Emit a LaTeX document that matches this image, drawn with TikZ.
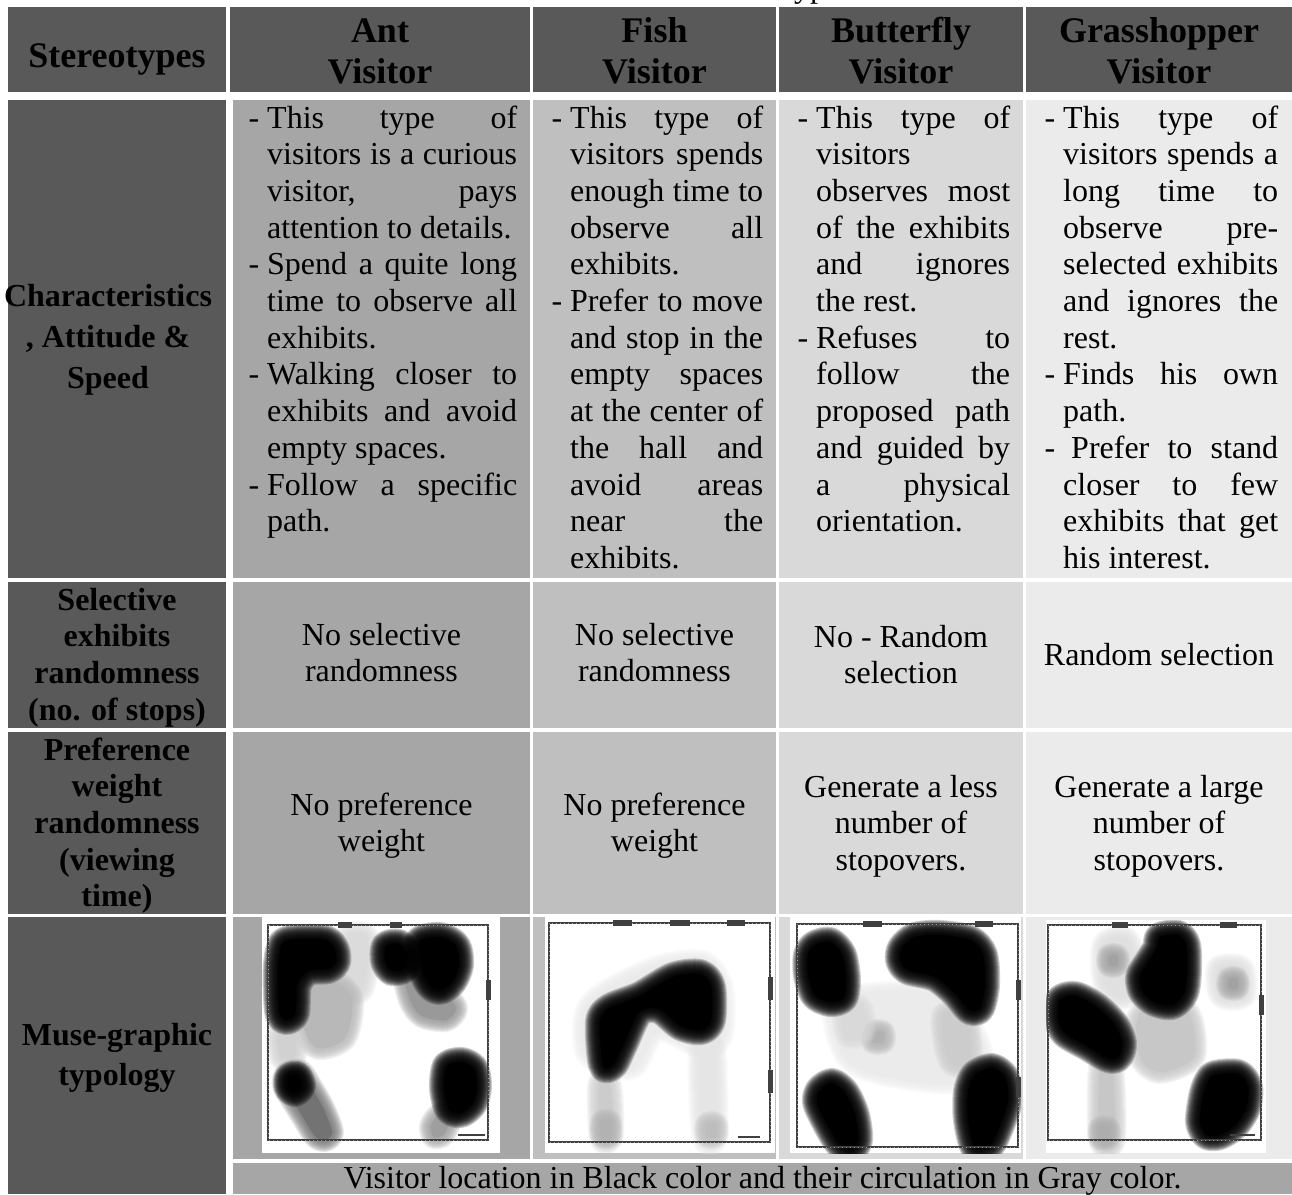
\documentclass[tikz,border=0pt]{standalone}
\usepackage{fontspec}
\setmainfont{Liberation Serif}

\definecolor{hdgray}{HTML}{595959}
\definecolor{antgray}{HTML}{A6A6A6}
\definecolor{fishgray}{HTML}{BFBFBF}
\definecolor{flygray}{HTML}{D9D9D9}
\definecolor{hopgray}{HTML}{EBEBEB}
\definecolor{mapline}{HTML}{404040}

\newcommand\bodyfont{\fontsize{32}{36.7}\selectfont}
\newcommand\headfont{\fontsize{36}{41.2}\selectfont\bfseries}
% one justified / left-aligned line of a bulleted cell
\newcommand\lnj[1]{\noindent\makebox[\linewidth][s]{#1}\par}
\newcommand\lnl[1]{\noindent\makebox[\linewidth][l]{#1}\par}
\newcommand\lndj[1]{\noindent\llap{-\ }\makebox[\linewidth][s]{#1}\par}
\newcommand\lndl[1]{\noindent\llap{-\ }\makebox[\linewidth][l]{#1}\par}
\newcommand\ctr[2]{\parbox[t]{#1}{\centering #2}}

% dense ink blob with a blurred rim
\newcommand\inkblob[2]{%
  \fill[#1] plot[smooth cycle] coordinates {#2};
  \foreach \w in {2,4,...,30}{\draw[#1, opacity=.2, line width=\w pt, line join=round] plot[smooth cycle] coordinates {#2};}
}
% faint smudge with a soft rim
\newcommand\smudge[2]{%
  \fill[#1] plot[smooth cycle] coordinates {#2};
  \foreach \w in {2,4,...,24}{\draw[#1, opacity=.15, line width=\w pt, line join=round] plot[smooth cycle] coordinates {#2};}
}

\tikzset{
  hdcell/.style={fill=hdgray},
  antcell/.style={fill=antgray},
  fishcell/.style={fill=fishgray},
  flycell/.style={fill=flygray},
  hopcell/.style={fill=hopgray},
  hdtext/.style={anchor=base, inner sep=0, font=\headfont},
  rowtext/.style={anchor=base, inner sep=0, font=\fontsize{32}{36.7}\selectfont\bfseries},
  celltext/.style={anchor=base, inner sep=0, font=\bodyfont},
  listtext/.style={anchor=base west, inner sep=0, font=\bodyfont},
  mapframe/.style={draw=mapline, line width=2.2pt},
  maptex/.style={draw=white, opacity=.45, line width=.8pt, dash pattern=on 1pt off 3pt},
  mapmark/.style={fill=mapline},
}

\begin{document}
\begin{tikzpicture}[x=1pt, y=-1pt]
\useasboundingbox (0,0) rectangle (1292,1194);
\fill[white] (0,0) rectangle (1292,1194);

% fragment of the caption above the table
\node[anchor=base west, inner sep=0, font=\bodyfont] (captop) at (785,-3) {types};

% ---------- header row ----------
\fill[hdcell] (7.5,7) rectangle (226,92);
\fill[hdcell] (230,7) rectangle (530,92);
\fill[hdcell] (533,7) rectangle (776,92);
\fill[hdcell] (779,7) rectangle (1023,92);
\fill[hdcell] (1026,7) rectangle (1292,92);

% ---------- left column ----------
\fill[hdcell] (7.5,100) rectangle (226,578);
\fill[hdcell] (7.5,582) rectangle (226,728);
\fill[hdcell] (7.5,732) rectangle (226,914);
\fill[hdcell] (7.5,917) rectangle (226,1194);

% ---------- body columns ----------
\foreach \ya/\yb in {100/578, 582/728, 732/914, 917/1159}{
  \fill[antcell]  (233,\ya) rectangle (530,\yb);
  \fill[fishcell] (533,\ya) rectangle (776,\yb);
  \fill[flycell]  (779,\ya) rectangle (1023,\yb);
  \fill[hopcell]  (1026,\ya) rectangle (1292,\yb);
}
\fill[antcell] (233,1163) rectangle (1292,1194);

% ---------- header texts ----------
\node[hdtext] (hstereo) at (117,67) {Stereotypes};
\node[hdtext] (hant)  at (380,42)  {\ctr{290pt}{Ant\\Visitor}};
\node[hdtext] (hfish) at (654.5,42) {\ctr{240pt}{Fish\\Visitor}};
\node[hdtext] (hfly)  at (901,42)  {\ctr{240pt}{Butterfly\\Visitor}};
\node[hdtext] (hhop)  at (1159,42) {\ctr{260pt}{Grasshopper\\Visitor}};

% ---------- row titles ----------
\node[rowtext, font=\fontsize{32}{41}\selectfont\bfseries] (rchar) at (108,306)
  {\ctr{218pt}{Characteristics\\, Attitude \&\\Speed}};
\node[rowtext] (rsel) at (117,610)
  {\ctr{218pt}{Selective\\exhibits\\randomness\\(no. of stops)}};
\node[rowtext] (rpref) at (117,760)
  {\ctr{218pt}{Preference\\weight\\randomness\\(viewing\\time)}};
\node[rowtext, font=\fontsize{32}{40}\selectfont\bfseries] (rmuse) at (117,1045)
  {\ctr{218pt}{Muse-graphic\\typology}};

% ---------- characteristics ----------
\node[listtext] (cant) at (267,128) {\parbox[t]{250pt}{%
  \lndj{This type of}
  \lnj{visitors is a curious}
  \lnj{visitor, pays}
  \lnl{attention to details.}
  \lndj{Spend a quite long}
  \lnj{time to observe all}
  \lnl{exhibits.}
  \lndj{Walking closer to}
  \lnj{exhibits and avoid}
  \lnl{empty spaces.}
  \lndj{Follow a specific}
  \lnl{path.}}};

\node[listtext] (cfish) at (570,128) {\parbox[t]{193pt}{%
  \lndj{This type of}
  \lnj{visitors spends}
  \lnj{enough time to}
  \lnj{observe all}
  \lnl{exhibits.}
  \lndj{Prefer to move}
  \lnj{and stop in the}
  \lnj{empty spaces}
  \lnj{at the center of}
  \lnj{the hall and}
  \lnj{avoid areas}
  \lnj{near the}
  \lnl{exhibits.}}};

\node[listtext] (cfly) at (816,128) {\parbox[t]{194pt}{%
  \lndj{This type of}
  \lnl{visitors}
  \lnj{observes most}
  \lnj{of the exhibits}
  \lnj{and ignores}
  \lnl{the rest.}
  \lndj{Refuses to}
  \lnj{follow the}
  \lnj{proposed path}
  \lnj{and guided by}
  \lnj{a physical}
  \lnl{orientation.}}};

\node[listtext] (chop) at (1063,128) {\parbox[t]{215pt}{%
  \lndj{This type of}
  \lnj{visitors spends a}
  \lnj{long time to}
  \lnj{observe pre-}
  \lnj{selected exhibits}
  \lnj{and ignores the}
  \lnl{rest.}
  \lndj{Finds his own}
  \lnl{path.}
  \lndj{\hspace*{8pt}Prefer to stand}
  \lnj{closer to few}
  \lnj{exhibits that get}
  \lnl{his interest.}}};

% ---------- selective randomness ----------
\node[celltext] (sant)  at (381.5,645) {\ctr{280pt}{No selective\\randomness}};
\node[celltext] (sfish) at (654.5,645) {\ctr{230pt}{No selective\\randomness}};
\node[celltext] (sfly)  at (901,647)   {\ctr{230pt}{No - Random\\selection}};
\node[celltext] (shop)  at (1159,665)  {Random selection};

% ---------- preference weight ----------
\node[celltext] (pant)  at (381.5,815) {\ctr{280pt}{No preference\\weight}};
\node[celltext] (pfish) at (654.5,815) {\ctr{230pt}{No preference\\weight}};
\node[celltext] (pfly)  at (901,797)   {\ctr{230pt}{Generate a less\\number of\\stopovers.}};
\node[celltext] (phop)  at (1159,797)  {\ctr{250pt}{Generate a large\\number of\\stopovers.}};

% ---------- density maps ----------
% ant visitor
\begin{scope}
  \clip (262,917) rectangle (500,1153);
  \fill[white] (262,917) rectangle (500,1153);
  \smudge{black!14}{(348,935) (366,935) (368,960) (362,990) (350,990) (346,960)}
  \smudge{black!28}{(306,986) (335,982) (352,1000) (345,1038) (318,1048) (304,1028)}
  \smudge{black!18}{(278,1034) (294,1034) (295,1055) (281,1058)}
  \smudge{black!40}{(404,972) (420,975) (442,992) (456,1008) (446,1020) (422,1016) (410,1000)}
  \smudge{black!55}{(286,1074) (300,1071) (311,1087) (323,1108) (332,1132) (325,1140) (315,1136) (303,1117) (291,1098) (284,1086)}
  \smudge{black!38}{(440,1114) (450,1118) (444,1134) (434,1137) (431,1126)}
  \inkblob{black}{(283,943) (300,939) (326,940) (335,950) (336,962) (328,969) (308,971) (297,985) (295,1013) (287,1020) (280,1015) (278,995) (278,965)}
  \inkblob{black}{(386,946) (399,944) (407,955) (405,968) (392,971) (385,961)}
  \inkblob{black}{(419,942) (440,937) (456,946) (459,965) (452,982) (440,990) (430,985) (422,968)}
  \inkblob{black}{(289,1078) (297,1076) (301,1086) (295,1092) (289,1088)}
  \inkblob{black}{(447,1066) (462,1062) (474,1069) (477,1086) (473,1103) (461,1113) (449,1109) (444,1088)}
\end{scope}
\draw[mapframe] (268,925) rectangle (488,1140);
\draw[maptex] (268,925) rectangle (488,1140);
\fill[mapmark] (338,922) rectangle (352,928);
\fill[mapmark] (390,922) rectangle (402,928);
\fill[mapmark] (486,980) rectangle (491,1000);
\draw[mapline, line width=1.5pt] (458,1135) -- (485,1135);

% fish visitor
\begin{scope}
  \clip (545,917) rectangle (775,1153);
  \fill[white] (545,917) rectangle (775,1153);
  \smudge{black!8}{(588,1055) (586,1012) (608,990) (660,966) (703,962) (722,987) (722,1035) (703,1048) (657,1030) (632,1068)}
  \smudge{black!20}{(599,1085) (610,1085) (612,1136) (601,1138)}
  \smudge{black!30}{(602,1122) (610,1122) (610,1136) (602,1136)}
  \smudge{black!10}{(700,1050) (714,1050) (716,1136) (703,1136)}
  \smudge{black!26}{(707,1124) (716,1124) (716,1136) (707,1136)}
  \inkblob{black}{(603,1065) (600,1022) (610,1008) (640,996) (673,977) (700,974) (711,987) (711,1020) (701,1030) (681,1026) (659,1009) (639,1012) (623,1045) (613,1065)}
\end{scope}
\draw[mapframe] (549,923) rectangle (770,1142);
\draw[maptex] (549,923) rectangle (770,1142);
\fill[mapmark] (613,920) rectangle (632,926);
\fill[mapmark] (670,920) rectangle (690,926);
\fill[mapmark] (727,920) rectangle (745,926);
\fill[mapmark] (768,977) rectangle (773,1000);
\fill[mapmark] (768,1070) rectangle (773,1093);
\draw[mapline, line width=1.5pt] (738,1137) -- (760,1137);

% butterfly visitor
\begin{scope}
  \clip (790,917) rectangle (1021,1153);
  \fill[white] (790,917) rectangle (1021,1153);
  \smudge{black!8}{(836,1004) (900,992) (955,1004) (982,1056) (955,1082) (882,1074) (846,1056)}
  \smudge{black!30}{(873,1032) (883,1032) (883,1042) (873,1042)}
  \smudge{black!20}{(944,1014) (966,1018) (970,1060) (952,1064) (944,1040)}
  \smudge{black!15}{(844,1004) (861,1008) (864,1032) (848,1036)}
  \inkblob{black}{(815,945) (830,942) (842,955) (846,980) (843,998) (830,1002) (815,995) (808,975) (808,955)}
  \inkblob{black}{(902,948) (915,937) (940,935) (970,940) (983,955) (985,985) (980,1008) (970,1010) (955,993) (935,977) (908,970) (900,960)}
  \inkblob{black}{(820,1090) (832,1083) (845,1093) (855,1115) (858,1140) (850,1150) (838,1142) (825,1120) (817,1102)}
  \inkblob{black}{(975,1075) (992,1068) (1005,1078) (1008,1100) (1000,1125) (990,1145) (975,1147) (968,1120) (968,1092)}
\end{scope}
\draw[mapframe] (797,924) rectangle (1018,1147);
\draw[maptex] (797,924) rectangle (1018,1147);
\fill[mapmark] (863,921) rectangle (882,927);
\fill[mapmark] (975,921) rectangle (993,927);
\fill[mapmark] (1016,980) rectangle (1021,1000);
\fill[mapmark] (1016,1077) rectangle (1021,1097);

% grasshopper visitor
\begin{scope}
  \clip (1046,920) rectangle (1266,1153);
  \fill[white] (1046,920) rectangle (1266,1153);
  \smudge{black!12}{(1104,944) (1128,940) (1136,986) (1120,998) (1104,982)}
  \smudge{black!36}{(1109,956) (1117,956) (1117,965) (1109,965)}
  \smudge{black!12}{(1218,968) (1242,968) (1244,996) (1221,996)}
  \smudge{black!36}{(1229,979) (1237,979) (1237,988) (1229,988)}
  \smudge{black!22}{(1140,1014) (1186,1010) (1194,1056) (1160,1072) (1140,1056)}
  \smudge{black!22}{(1100,1068) (1112,1068) (1114,1140) (1100,1140)}
  \smudge{black!32}{(1100,1128) (1108,1128) (1108,1138) (1100,1138)}
  \inkblob{black}{(1060,1000) (1075,996) (1095,1006) (1114,1024) (1122,1043) (1118,1057) (1108,1058) (1087,1046) (1065,1033) (1058,1018)}
  \inkblob{black}{(1160,937) (1178,935) (1186,945) (1187,970) (1184,993) (1172,1005) (1155,1002) (1143,992) (1140,977) (1148,963) (1157,948)}
  \inkblob{black}{(1215,1075) (1238,1074) (1248,1087) (1246,1108) (1235,1125) (1220,1135) (1207,1135) (1200,1122) (1203,1097) (1208,1082)}
\end{scope}
\draw[mapframe] (1048,925) rectangle (1261,1140);
\draw[maptex] (1048,925) rectangle (1261,1140);
\fill[mapmark] (1112,922) rectangle (1128,928);
\fill[mapmark] (1220,922) rectangle (1237,928);
\fill[mapmark] (1259,995) rectangle (1264,1015);
\draw[mapline, line width=1.5pt] (1230,1135) -- (1255,1135);

% ---------- legend row ----------
\node[celltext] (legend) at (762.5,1188)
  {Visitor location in Black color and their circulation in Gray color.};
\end{tikzpicture}
\end{document}
